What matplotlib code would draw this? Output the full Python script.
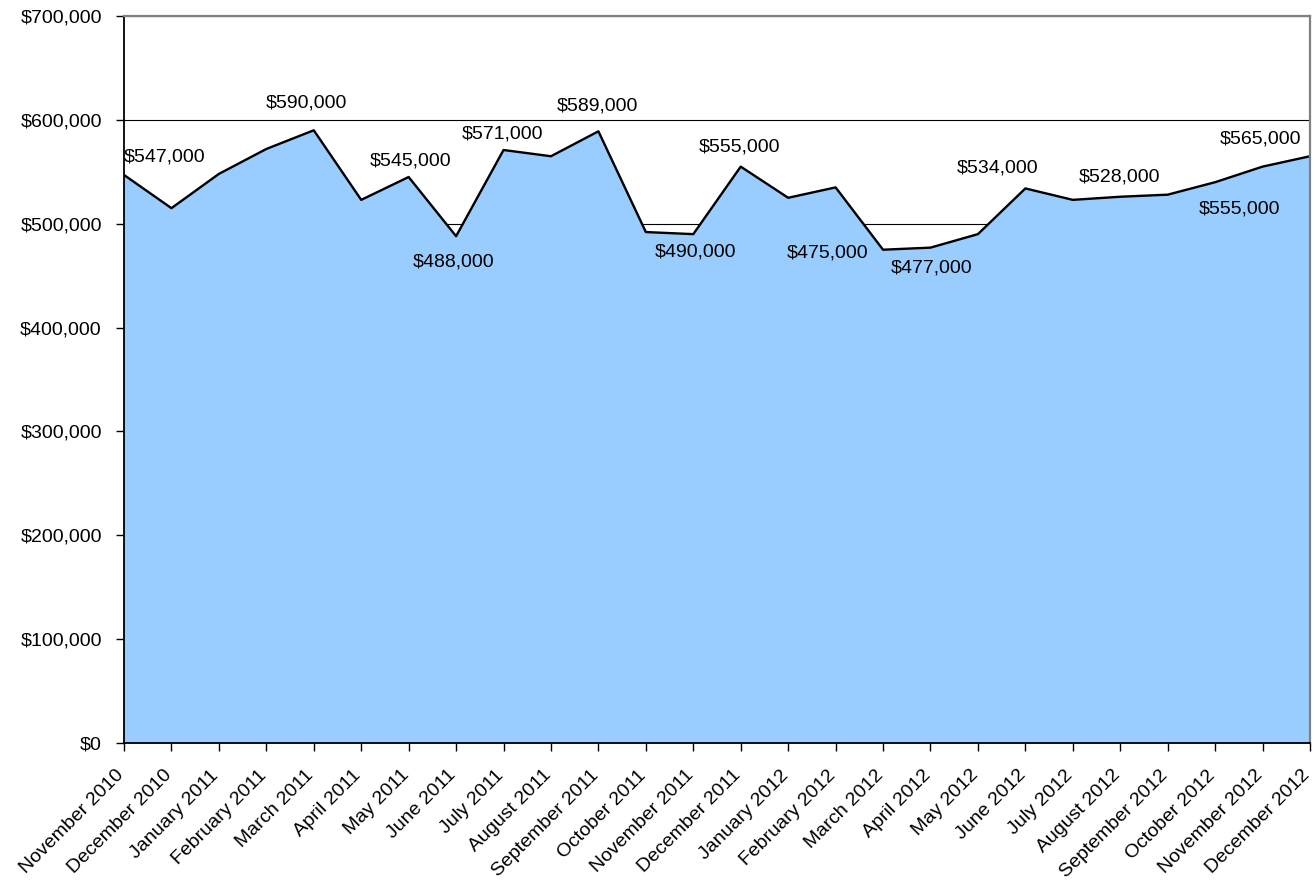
import matplotlib.pyplot as plt
import numpy as np
from matplotlib.ticker import FuncFormatter, MultipleLocator
from matplotlib.transforms import ScaledTranslation

plt.rcParams['font.family'] = ['Liberation Sans', 'DejaVu Sans']

# monthly median price
months = [
    'November 2010', 'December 2010', 'January 2011', 'February 2011',
    'March 2011', 'April 2011', 'May 2011', 'June 2011', 'July 2011',
    'August 2011', 'September 2011', 'October 2011', 'November 2011',
    'December 2011', 'January 2012', 'February 2012', 'March 2012',
    'April 2012', 'May 2012', 'June 2012', 'July 2012', 'August 2012',
    'September 2012', 'October 2012', 'November 2012', 'December 2012',
]
prices = [
    547000, 515000, 548000, 572000, 590000, 523000, 545000, 488000,
    571000, 565000, 589000, 492000, 490000, 555000, 525000, 535000,
    475000, 477000, 490000, 534000, 523000, 526000, 528000, 540000,
    555000, 565000,
]

# which points get a value label, and where the label sits (pixels)
labelled = [0, 4, 6, 7, 8, 10, 12, 13, 16, 17, 19, 22, 24, 25]
label_offsets = [
    (41, 18), (-7, 27), (2, 16), (-3, -26), (-1, 16), (-1, 25), (2, -18),
    (-1, 20), (-55, -3), (1, -20), (-28, 20), (-48, 18), (-23, -42), (-50, 17),
]

fig = plt.figure(figsize=(13.15, 8.81), dpi=100)
ax = fig.add_axes([0.0943, 0.1566, 0.9019, 0.8252])

x = np.arange(len(months))
ax.fill_between(x, prices, color='#99CCFF', zorder=1)
ax.plot(x, prices, color='black', lw=1.7, zorder=2)

for i, (dx, dy) in zip(labelled, label_offsets):
    ax.annotate(f'${prices[i]:,}', (x[i], prices[i]), xytext=(dx, dy),
                textcoords='offset pixels', ha='center', va='center',
                fontsize=14, color='black', zorder=3, annotation_clip=False)

ax.set_xlim(0, len(months) - 1)
ax.set_ylim(0, 700000)
ax.yaxis.set_major_locator(MultipleLocator(100000))
ax.yaxis.set_major_formatter(FuncFormatter(lambda v, p: f'${v:,.0f}'))
ax.set_xticks(x)
ax.set_xticklabels(months, rotation=45, ha='right', rotation_mode='anchor')

ax.grid(axis='y', color='black', lw=0.8)
ax.set_axisbelow(True)

ax.tick_params(axis='both', direction='out', length=6, width=1, color='black',
               labelsize=14)
ax.tick_params(axis='x', pad=6)
ax.tick_params(axis='y', pad=10)

# nudge the slanted labels down-left like the original
# (after tick_params, which would reset the transforms)
shift = ScaledTranslation(-0.085, -0.07, fig.dpi_scale_trans)
for tick in ax.xaxis.get_major_ticks():
    tick.label1.set_transform(tick.label1.get_transform() + shift)

for side in ['left', 'bottom']:
    ax.spines[side].set_color('black')
    ax.spines[side].set_linewidth(1.3)
for side in ['top', 'right']:
    ax.spines[side].set_color('#808080')
    ax.spines[side].set_linewidth(1.6)

fig.savefig('out.png', dpi=100)
